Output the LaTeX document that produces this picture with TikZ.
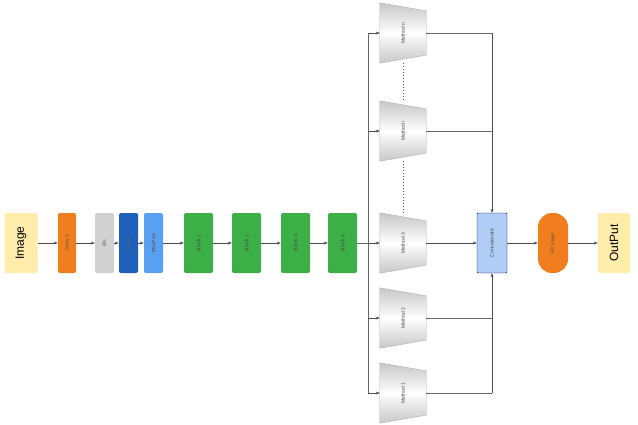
\documentclass[tikz,border=0pt]{standalone}
\usepackage{fontspec}
\setmainfont{Liberation Sans}
\usetikzlibrary{arrows.meta}
\definecolor{orng}{RGB}{240,125,30}
\definecolor{grn}{RGB}{60,175,70}
\definecolor{dblue}{RGB}{30,95,185}
\definecolor{lblue}{RGB}{90,160,240}
\definecolor{cblue}{RGB}{175,205,245}
\definecolor{ylw}{RGB}{253,236,170}
\begin{document}
\begin{tikzpicture}[x=1pt,y=-1pt,
 box/.style={draw=none,minimum width=60pt,inner sep=1pt,rotate=90,font=\tiny,rounded corners=2pt},
 arr/.style={-{Stealth[length=4pt]},draw=black!70,line width=0.5pt},
 ln/.style={draw=black!60,line width=0.5pt},
 meth/.style={draw=none,minimum width=46pt,minimum height=60pt,inner sep=0pt,font=\tiny,text=black!70}]
\useasboundingbox (0,0) rectangle (638,424);
\node[box,fill=ylw,minimum height=33pt,font=\large] (img) at (21,243) {Image};
\node[box,fill=orng,minimum height=18pt,text=black!70] (conv) at (67,243) {Conv 1};
\node[box,fill=black!18,minimum height=19pt,text=black!60] (bn) at (104.5,243) {BN};
\node[box,fill=dblue,minimum height=19pt,text=black!60] (relu) at (128.5,243) {ReLU};
\node[box,fill=lblue,minimum height=19pt,text=black!70] (mp) at (153.5,243) {MaxPool};
\foreach \n/\x in {1/198.5,2/246.5,3/295.5,4/342.5}
 \node[box,fill=grn,minimum height=29pt,text=black!70] (b\n) at (\x,243) {Block \n};
\draw[arr] (img) -- (conv); \draw[arr] (conv) -- (bn); \draw[arr] (bn) -- (relu);
\draw[arr] (relu) -- (mp); \draw[arr] (mp) -- (b1); \draw[arr] (b1) -- (b2);
\draw[arr] (b2) -- (b3); \draw[arr] (b3) -- (b4);
\coordinate (sp) at (368,243);
\draw[ln] (b4) -- (sp);
\foreach \m/\y/\t in {n/33/{Method \emph{n}},i/131/{Method \emph{i}},3/243/{Method 3},2/318/{Method 2},1/393/{Method 1}}{
 \node[meth] (m\m) at (403,\y) {};
 \shade[top color=black!22,bottom color=black!22,middle color=white,draw=black!35,line width=0.3pt]
   (m\m.north west) -- ([yshift=-8pt]m\m.north east) -- ([yshift=8pt]m\m.south east) -- (m\m.south west) -- cycle;
 \node[rotate=90,font=\tiny,text=black!70] at (m\m.center) {\t};
 \coordinate (s\m) at (368,\y);
 \draw[arr] (s\m) -- (m\m.west);
}
\draw[ln] (sn) -- (s1);
\draw[dotted,line width=1pt,black!70] (mn.south) -- (mi.north);
\draw[dotted,line width=1pt,black!70] (mi.south) -- (m3.north);
\node[box,draw=blue!30!black,fill=cblue,minimum height=30pt,rounded corners=1pt,text=black!70] (cat) at (492,243) {Concatenate};
\node[box,fill=orng,minimum height=30pt,rounded corners=14pt,text=black!70] (fc) at (553,243) {FC Layer};
\node[box,fill=ylw,minimum height=32pt,font=\large] (out) at (614,243) {OutPut};
\coordinate (cn) at (492,33); \coordinate (ci) at (492,131);
\coordinate (c2) at (492,318); \coordinate (c1) at (492,393);
\draw[ln] (mn.east) -- (cn); \draw[ln] (mi.east) -- (ci);
\draw[ln] (m2.east) -- (c2); \draw[ln] (m1.east) -- (c1);
\draw[arr] (cn) -- (cat);
\draw[arr] (c1) -- (cat);
\draw[arr] (m3.east) -- (cat);
\draw[arr] (cat) -- (fc); \draw[arr] (fc) -- (out);
\end{tikzpicture}
\end{document}
